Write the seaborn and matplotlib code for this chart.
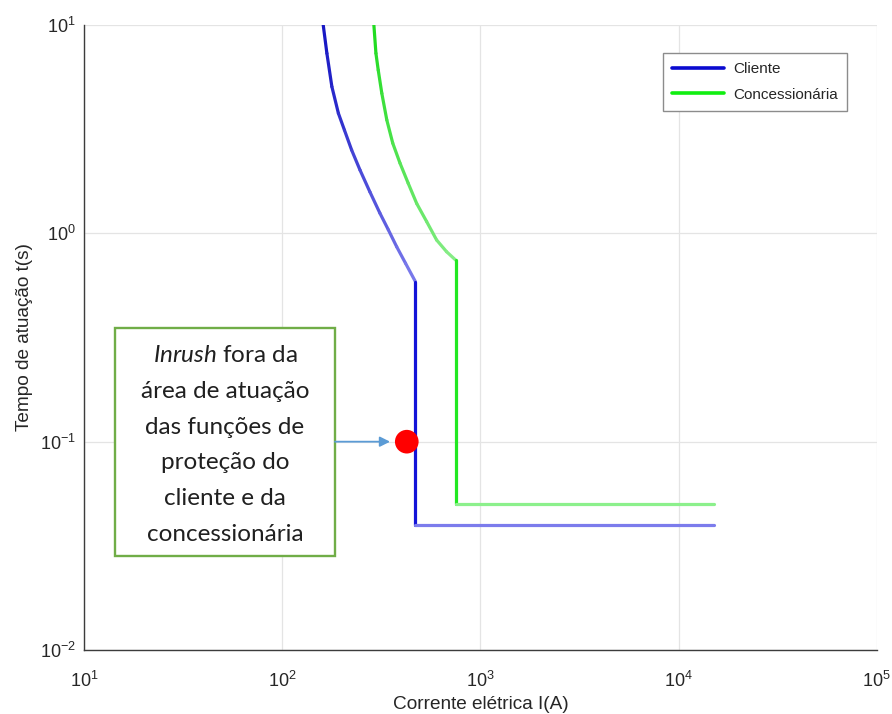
import matplotlib
matplotlib.use("Agg")
import matplotlib.pyplot as plt
import seaborn as sns
import numpy as np
from matplotlib.collections import LineCollection
from matplotlib.patches import Rectangle
from matplotlib.lines import Line2D
from matplotlib.colors import to_rgb
from matplotlib.ticker import LogLocator, NullLocator

# Time-current curves (current in A, operating time in s)
cliente_i = [161, 168, 178, 192, 206, 224, 247, 277, 311, 343, 378, 419,
             470, 470, 15000]
cliente_t = [10, 7.31, 5.06, 3.77, 3.13, 2.51, 2.01, 1.58, 1.25, 1.04, 0.862,
             0.718, 0.586, 0.04, 0.04]
conc_i = [290, 297, 305, 318, 337, 361, 393, 432, 477, 535, 601, 675,
          750, 750, 15000]
conc_t = [10, 7.31, 6.08, 4.70, 3.50, 2.71, 2.17, 1.74, 1.39, 1.14, 0.929,
          0.816, 0.744, 0.05, 0.05]

# Inrush point
inrush_i = [425]
inrush_t = [0.1]

series_labels = ["Cliente", "Concessionária"]
xlabel = "Corrente elétrica I(A)"
ylabel = "Tempo de atuação t(s)"
note = ("$\\mathit{Inrush}$ fora da\nárea de atuação\ndas funções de\n"
        "proteção do\ncliente e da\nconcessionária")

sns.set_theme(style="white")
plt.rcParams["font.family"] = ["Liberation Sans", "DejaVu Sans"]
plt.rcParams["mathtext.fontset"] = "custom"
plt.rcParams["mathtext.rm"] = "Liberation Sans"
plt.rcParams["mathtext.it"] = "Lato:italic"

fig = plt.figure(figsize=(8.92, 7.14), dpi=100)
ax = fig.add_axes([0.0942, 0.0896, 0.8888, 0.8754])
ax.set_xscale("log")
ax.set_yscale("log")
ax.set_xlim(10, 1e5)
ax.set_ylim(1e-2, 10)

LW = 2.3


def draw_curve(i_vals, t_vals, corner, c_top, c_bottom, c_vert, c_horiz):
    # inverse-time part, shaded from top to bottom
    pts = np.column_stack([i_vals[:corner + 1], t_vals[:corner + 1]])
    segs = [pts[k:k + 2] for k in range(len(pts) - 1)]
    a, b = np.array(to_rgb(c_top)), np.array(to_rgb(c_bottom))
    fr = np.linspace(0, 1, len(segs))
    cols = [tuple(a + (b - a) * f) for f in fr]
    lc = LineCollection(segs, colors=cols, linewidths=LW, capstyle="round",
                        joinstyle="round", zorder=3)
    ax.add_collection(lc)
    # definite-time vertical step
    sns.lineplot(x=i_vals[corner:corner + 2], y=t_vals[corner:corner + 2],
                 estimator=None, sort=False, color=c_vert, lw=LW, ax=ax,
                 zorder=3, solid_capstyle="round")
    # instantaneous horizontal part
    sns.lineplot(x=i_vals[corner + 1:], y=t_vals[corner + 1:],
                 estimator=None, sort=False, color=c_horiz, lw=LW, ax=ax,
                 zorder=3, solid_capstyle="round")


draw_curve(cliente_i, cliente_t, 12, "#1818c4", "#7878ea", "#1414d8", "#7c7cec")
draw_curve(conc_i, conc_t, 12, "#22dc22", "#86ec86", "#22e822", "#8cf08c")

sns.scatterplot(x=inrush_i, y=inrush_t, s=290, color="#ff0000",
                edgecolor="none", ax=ax, zorder=6)

# annotation box with arrow
box = Rectangle((0.039, 0.1504), 0.2775, 0.3646, transform=ax.transAxes,
                facecolor="white", edgecolor="#70ad47", lw=1.7, zorder=5)
ax.add_patch(box)
ax.text(0.1778, 0.328, note, transform=ax.transAxes, ha="center",
        va="center", family="Lato", fontsize=17.5, linespacing=1.86,
        color="#202020", zorder=6)
ax.annotate("", xy=(350, 0.1), xycoords="data",
            xytext=(0.3165, 1 / 3), textcoords="axes fraction",
            arrowprops=dict(arrowstyle="-|>", color="#5b9bd5", lw=1.3,
                            mutation_scale=15, shrinkA=0, shrinkB=0),
            zorder=5)

# axes styling
ax.xaxis.set_major_locator(LogLocator(base=10, numticks=10))
ax.yaxis.set_major_locator(LogLocator(base=10, numticks=10))
ax.xaxis.set_minor_locator(NullLocator())
ax.yaxis.set_minor_locator(NullLocator())
ax.grid(True, which="major", color="#e4e4e4", lw=0.9)
for s in ["top", "right"]:
    ax.spines[s].set_visible(False)
for s in ["left", "bottom"]:
    ax.spines[s].set_color("#3c3c3c")
    ax.spines[s].set_linewidth(1.0)
ax.tick_params(axis="both", which="major", direction="in", length=4,
               width=0.9, color="#3c3c3c", labelsize=13, labelcolor="#262626")
ax.tick_params(axis="x", pad=15)
ax.tick_params(axis="y", pad=6)

ax.set_xlabel(xlabel, fontsize=13.7, color="#262626")
ax.set_ylabel(ylabel, fontsize=13.7, color="#262626")
ax.xaxis.set_label_coords(0.5, -0.074)
ax.yaxis.set_label_coords(-0.064, 0.5)

handles = [Line2D([], [], color="#0a0ad0", lw=2.6),
           Line2D([], [], color="#10ee10", lw=2.6)]
leg = ax.legend(handles, series_labels, loc="upper right",
                bbox_to_anchor=(0.962, 0.955), borderaxespad=0,
                fancybox=False, framealpha=1, edgecolor="#8c8c8c",
                fontsize=11, handlelength=3.4, handletextpad=0.6,
                labelspacing=0.75, borderpad=0.6)
leg.get_frame().set_linewidth(1.0)

fig.savefig("out.png", dpi=100)
